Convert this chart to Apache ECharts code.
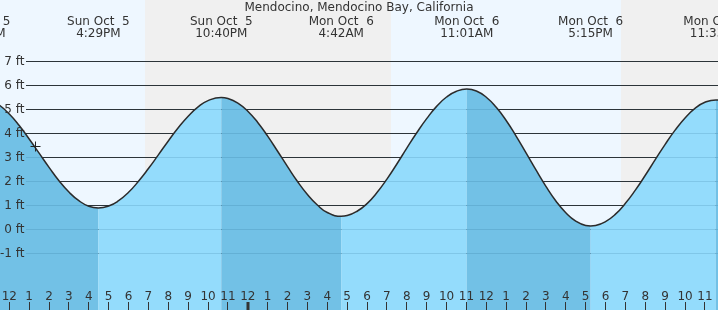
<!DOCTYPE html>
<html><head><meta charset="utf-8">
<script src="https://cdn.jsdelivr.net/npm/echarts@6/dist/echarts.min.js"></script>
<style>html,body{margin:0;padding:0;background:#eef7ff}#c{width:718px;height:310px}</style>
</head><body><div id="c"></div>
<script>
// ---------- data (times are hours since Sun Oct 5, 00:00) ----------
const titleText = 'Mendocino, Mendocino Bay, California';
const tideTimes = [
  10.48, 11, 11.5, 12, 12.5, 13, 13.5, 14, 14.5, 15, 15.5, 16, 16.483,
  17, 17.5, 18, 18.5, 19, 19.5, 20, 20.5, 21, 21.5, 22, 22.667,
  23, 23.5, 24, 24.5, 25, 25.5, 26, 26.5, 27, 27.5, 28, 28.7,
  29, 29.5, 30, 30.5, 31, 31.5, 32, 32.5, 33, 33.5, 34, 34.5, 35.017,
  35.5, 36, 36.5, 37, 37.5, 38, 38.5, 39, 39.5, 40, 40.5, 41, 41.25,
  41.5, 42, 42.5, 43, 43.5, 44, 44.5, 45, 45.5, 46, 46.5, 47, 47.55, 48];
const tideHeights = [
  5.5, 5.42, 5.18, 4.81, 4.33, 3.77, 3.18, 2.59, 2.03, 1.56, 1.20, 0.97, 0.9,
  0.98, 1.20, 1.55, 2.01, 2.54, 3.11, 3.69, 4.24, 4.72, 5.11, 5.37, 5.5,
  5.46, 5.27, 4.93, 4.46, 3.89, 3.26, 2.62, 2.00, 1.46, 1.02, 0.71, 0.55,
  0.58, 0.76, 1.08, 1.54, 2.10, 2.73, 3.39, 4.03, 4.62, 5.13, 5.52, 5.76, 5.85,
  5.77, 5.51, 5.09, 4.54, 3.89, 3.19, 2.48, 1.80, 1.19, 0.70, 0.35, 0.17, 0.15,
  0.17, 0.33, 0.64, 1.09, 1.64, 2.26, 2.91, 3.55, 4.14, 4.65, 5.05, 5.30, 5.4, 5.38];
const extremeTimes = [10.48, 16.483, 22.667, 28.7, 35.017, 41.25, 47.55];
const extremeKinds = ['H', 'L', 'H', 'L', 'H', 'L', 'H'];
const extremeDays  = ['Sun Oct  5', 'Sun Oct  5', 'Sun Oct  5', 'Mon Oct  6', 'Mon Oct  6', 'Mon Oct  6', 'Mon Oct  6'];
const extremeClock = ['10:29AM', '4:29PM', '10:40PM', '4:42AM', '11:01AM', '5:15PM', '11:33PM'];
const nightStart = [18.83, 42.78];
const nightEnd   = [31.2, 54];
const ftLevels = [-1, 0, 1, 2, 3, 4, 5, 6, 7];
const ftLabels = ['-1 ft', '0 ft', '1 ft', '2 ft', '3 ft', '4 ft', '5 ft', '6 ft', '7 ft'];
const hourTicks  = [12,13,14,15,16,17,18,19,20,21,22,23,24,25,26,27,28,29,30,31,32,33,34,35,36,37,38,39,40,41,42,43,44,45,46,47];
const hourLabels = ['12','1','2','3','4','5','6','7','8','9','10','11','12','1','2','3','4','5','6','7','8','9','10','11','12','1','2','3','4','5','6','7','8','9','10','11'];
const markerTime = 13.27, markerHeight = 3.47;

// ---------- view ----------
const X_MIN = 11.532, X_MAX = 47.658, Y_MIN = -3.3542, Y_MAX = 9.5625;
const FONT = '12px "DejaVu Sans"';
const TXT = '#333';
const FALL = '#72c1e6', RISE = '#94dcfc';

const chart = echarts.init(document.getElementById('c'), null, {renderer: 'canvas'});

function gridLineSeries(color, z) {
  return {
    type: 'custom', z: z, silent: true,
    data: ftLevels.map(v => [X_MIN, v]),
    renderItem: (params, api) => {
      const cs = params.coordSys;
      const p = api.coord([api.value(0), api.value(1)]);
      const y = Math.round(p[1] - 0.5) + 0.5;
      return {type: 'line', shape: {x1: cs.x + 26, y1: y, x2: cs.x + cs.width, y2: y},
              style: {stroke: color, lineWidth: 1}};
    }
  };
}

const series = [];
// night shading
series.push({
  type: 'custom', z: 0, silent: true,
  data: nightStart.map((s, i) => [s, nightEnd[i]]),
  renderItem: (params, api) => {
    const a = api.coord([api.value(0), Y_MAX]);
    const b = api.coord([api.value(1), Y_MIN]);
    const x1 = Math.round(a[0]), x2 = Math.round(b[0]);
    return {type: 'rect', shape: {x: x1, y: a[1], width: x2 - x1, height: b[1] - a[1]}, style: {fill: '#f0f0f0'}};
  }
});
series.push(gridLineSeries('#333', 1));

// water, split into falling / rising sections
const lastT = tideTimes[tideTimes.length - 1];
extremeTimes.forEach((start, i) => {
  const end = i + 1 < extremeTimes.length ? extremeTimes[i + 1] : lastT;
  if (end <= start) return;
  const pts = [];
  tideTimes.forEach((t, k) => { if (t >= start - 1e-9 && t <= end + 1e-9) pts.push([t, tideHeights[k]]); });
  series.push({
    type: 'line', z: 2, silent: true, smooth: true, symbol: 'none', data: pts,
    lineStyle: {width: 0, opacity: 0},
    areaStyle: {color: extremeKinds[i] === 'H' ? FALL : RISE, opacity: 1, origin: 'start'}
  });
});
series.push(gridLineSeries('rgba(0,60,100,0.13)', 3));

// tide curve
series.push({
  type: 'line', z: 4, silent: true, smooth: true, symbol: 'none',
  data: tideTimes.map((t, k) => [t, tideHeights[k]]),
  lineStyle: {color: '#2b2b2b', width: 1.5}
});

// y labels
series.push({
  type: 'custom', z: 5, silent: true,
  data: ftLevels.map((v, i) => [X_MIN, v, i]),
  renderItem: (params, api) => {
    const cs = params.coordSys;
    const p = api.coord([api.value(0), api.value(1)]);
    return {type: 'text', style: {text: ftLabels[api.value(2)], x: cs.x + 24.5, y: Math.round(p[1]) + 1,
            align: 'right', verticalAlign: 'middle', font: FONT, fill: TXT}};
  }
});

// hour ticks + labels
series.push({
  type: 'custom', z: 5, silent: true,
  data: hourTicks.map((h, i) => [h, Y_MIN, i]),
  renderItem: (params, api) => {
    const cs = params.coordSys;
    const h = api.value(0);
    const p = api.coord([h, api.value(1)]);
    const bottom = cs.y + cs.height;
    const midnight = (h % 24) === 0;
    const x = midnight ? Math.round(p[0]) : Math.round(p[0] - 0.5) + 0.5;
    return {type: 'group', children: [
      {type: 'line', shape: {x1: x, y1: bottom - 8, x2: x, y2: bottom},
       style: {stroke: '#333', lineWidth: midnight ? 3 : 1}},
      {type: 'text', style: {text: hourLabels[api.value(2)], x: p[0], y: bottom - 13,
       align: 'center', verticalAlign: 'middle', font: FONT, fill: TXT}}
    ]};
  }
});

// extreme (high/low) labels at top
series.push({
  type: 'custom', z: 5, silent: true,
  data: extremeTimes.map((t, i) => [t, Y_MAX, i]),
  renderItem: (params, api) => {
    const cs = params.coordSys;
    const p = api.coord([api.value(0), api.value(1)]);
    const i = api.value(2);
    return {type: 'group', children: [
      {type: 'text', style: {text: extremeDays[i], x: p[0], y: cs.y + 22,
       align: 'center', verticalAlign: 'middle', font: FONT, fill: TXT}},
      {type: 'text', style: {text: extremeClock[i], x: p[0], y: cs.y + 33.5,
       align: 'center', verticalAlign: 'middle', font: FONT, fill: TXT}}
    ]};
  }
});

// current-time marker (+)
series.push({
  type: 'custom', z: 6, silent: true,
  data: [[markerTime, markerHeight]],
  renderItem: (params, api) => {
    const p = api.coord([api.value(0), api.value(1)]);
    const cx = Math.round(p[0]) + 0.5, cy = Math.round(p[1]) + 0.5;
    return {type: 'group', children: [
      {type: 'line', shape: {x1: cx - 5, y1: cy, x2: cx + 5, y2: cy}, style: {stroke: '#222', lineWidth: 1}},
      {type: 'line', shape: {x1: cx, y1: cy - 5, x2: cx, y2: cy + 5}, style: {stroke: '#222', lineWidth: 1}}
    ]};
  }
});

chart.setOption({
  animation: false,
  backgroundColor: '#eef7ff',
  title: {text: titleText, left: 'center', top: 2, padding: 0,
          textStyle: {fontFamily: 'DejaVu Sans', fontSize: 12, fontWeight: 'normal', color: TXT}},
  grid: {left: 0, right: 0, top: 0, bottom: 0, containLabel: false},
  xAxis: {type: 'value', min: X_MIN, max: X_MAX, show: false, splitLine: {show: false}},
  yAxis: {type: 'value', min: Y_MIN, max: Y_MAX, show: false, splitLine: {show: false}},
  series: series
});
</script></body></html>
